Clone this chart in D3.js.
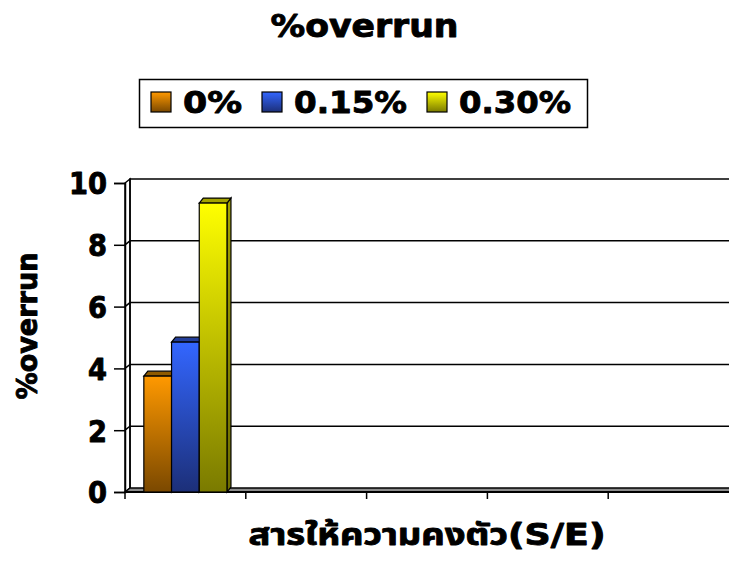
<!DOCTYPE html>
<html>
<head>
<meta charset="utf-8">
<script src="https://cdn.jsdelivr.net/npm/d3@7"></script>
<style>
  html, body { margin: 0; padding: 0; background: #fff; }
  svg { display: block; }
  text { font-family: "DejaVu Sans", Verdana, Tahoma, "Noto Sans Thai", sans-serif; font-weight: bold; fill: #000; }
  .heavy { stroke: #000; stroke-width: 0.9px; stroke-linejoin: round; }
</style>
</head>
<body>
<svg id="chart" width="729" height="564"></svg>
<script>
// Categories along the x axis (only the first one carries data)
const categories = ["S/E", "c2", "c3", "c4", "c5"];
// Series names shown in the legend
const seriesNames = ["0%", "0.15%", "0.30%"];
// %overrun per category for each series
const series0 = [3.75, null, null, null, null];
const series1 = [4.85, null, null, null, null];
const series2 = [9.35, null, null, null, null];
const seriesValues = [series0, series1, series2];
// Y axis ticks
const yTicks = [0, 2, 4, 6, 8, 10];

const titleText = "%overrun";
const yTitleText = "%overrun";
const xTitleText = "สารให้ความคงตัว(S/E)";

// Colour ramps (top -> bottom) for each series
const palette = [
  { top: "#FF9900", bottom: "#7A4800", cap: "#8F5A00", side: "#6B4000" },
  { top: "#3366FF", bottom: "#1C2F78", cap: "#233E99", side: "#1A2A6A" },
  { top: "#FFFF00", bottom: "#7A7A00", cap: "#A3A300", side: "#6E6E00" }
];

const W = 729, H = 564;
const svg = d3.select("#chart");
const defs = svg.append("defs");

palette.forEach((p, i) => {
  const g = defs.append("linearGradient").attr("id", "grad" + i)
    .attr("x1", 0).attr("y1", 0).attr("x2", 0).attr("y2", 1);
  g.append("stop").attr("offset", "0%").attr("stop-color", p.top);
  g.append("stop").attr("offset", "100%").attr("stop-color", p.bottom);
  const s = defs.append("linearGradient").attr("id", "side" + i)
    .attr("x1", 0).attr("y1", 0).attr("x2", 0).attr("y2", 1);
  s.append("stop").attr("offset", "0%").attr("stop-color", p.cap);
  s.append("stop").attr("offset", "100%").attr("stop-color", p.side);
});

// Plot geometry (front plane)
const pLeft = 125, pRight = 729, pBottom = 492, pTop = 183;
const wallDx = 5, wallDy = -4;   // depth of walls
const barDx = 4, barDy = -5;     // depth of bars

const y = d3.scaleLinear().domain([0, 10]).range([pBottom, pTop]);
const x0 = d3.scaleBand().domain(categories).range([pLeft, pRight]).paddingInner(0).paddingOuter(0);
const x1 = d3.scaleBand().domain(seriesNames).range([0, x0.bandwidth()]).paddingInner(0).paddingOuter(0.68);

// Title
svg.append("text").attr("class", "heavy").attr("x", W / 2).attr("y", 37).attr("text-anchor", "middle")
  .attr("textLength", 188).attr("lengthAdjust", "spacingAndGlyphs")
  .style("font-size", "32px").text(titleText);

// Legend
const legend = svg.append("g");
legend.append("rect").attr("x", 139.5).attr("y", 79.5).attr("width", 448).attr("height", 48)
  .attr("fill", "#fff").attr("stroke", "#000").attr("stroke-width", 1.5);
const legendX = [151, 262, 427];
const legendW = [59, 113, 112];
seriesNames.forEach((name, i) => {
  legend.append("rect").attr("x", legendX[i]).attr("y", 92).attr("width", 20).attr("height", 20)
    .attr("fill", `url(#grad${i})`).attr("stroke", "#000").attr("stroke-width", 1.2);
  legend.append("text").attr("class", "heavy").attr("x", legendX[i] + 32).attr("y", 113)
    .attr("textLength", legendW[i]).attr("lengthAdjust", "spacingAndGlyphs")
    .style("font-size", "31px").text(name);
});

// Walls and floor
const plot = svg.append("g");
// side wall
plot.append("path")
  .attr("d", `M${pLeft},${pBottom} L${pLeft},${pTop} L${pLeft + wallDx},${pTop + wallDy} L${pLeft + wallDx},${pBottom + wallDy} Z`)
  .attr("fill", "#fff").attr("stroke", "#000").attr("stroke-width", 1.5);
// back wall
plot.append("path")
  .attr("d", `M${pLeft + wallDx},${pBottom + wallDy} L${pLeft + wallDx},${pTop + wallDy} L${pRight + wallDx + 2},${pTop + wallDy}`)
  .attr("fill", "none").attr("stroke", "#000").attr("stroke-width", 1.5);
// floor
plot.append("path")
  .attr("d", `M${pLeft},${pBottom} L${pLeft + wallDx},${pBottom + wallDy} L${pRight + wallDx + 2},${pBottom + wallDy} L${pRight + 2},${pBottom} Z`)
  .attr("fill", "#8c8c8c").attr("stroke", "#000").attr("stroke-width", 1.5);

// Gridlines on the back wall and side wall
yTicks.filter(t => t > 0 && t < 10).forEach(t => {
  plot.append("path")
    .attr("d", `M${pLeft},${y(t)} L${pLeft + wallDx},${y(t) + wallDy} L${pRight + wallDx + 2},${y(t) + wallDy}`)
    .attr("fill", "none").attr("stroke", "#000").attr("stroke-width", 1.5);
});

// Y axis (front)
const yAxis = d3.axisLeft(y).tickValues(yTicks).tickSize(11).tickPadding(7).tickFormat(d3.format("d"));
const yg = svg.append("g").attr("transform", `translate(${pLeft},0)`).call(yAxis);
yg.select(".domain").attr("stroke", "#000").attr("stroke-width", 1.5);
yg.selectAll(".tick line").attr("stroke", "#000").attr("stroke-width", 1.5);
yg.selectAll(".tick text")
  .attr("class", "heavy")
  .style("font-size", "30px").style("font-family", "\"DejaVu Sans\", sans-serif")
  .attr("textLength", d => 19 * String(d).length).attr("lengthAdjust", "spacingAndGlyphs")
  .attr("dy", "0.36em");

// X axis (front), ticks at category boundaries
const boundaries = categories.map(c => x0(c));
const xg = svg.append("g");
xg.append("line").attr("x1", pLeft).attr("x2", pRight + 2).attr("y1", pBottom).attr("y2", pBottom)
  .attr("stroke", "#000").attr("stroke-width", 2);
boundaries.forEach(bx => {
  xg.append("line").attr("x1", bx).attr("x2", bx).attr("y1", pBottom).attr("y2", pBottom + 7)
    .attr("stroke", "#000").attr("stroke-width", 1.5);
});

// Bars with top and side faces
const bars = svg.append("g");
categories.forEach((c, ci) => {
  seriesValues.forEach((vals, si) => {
    const v = vals[ci];
    if (v == null) return;
    const bx = x0(c) + x1(seriesNames[si]);
    const bw = x1.bandwidth();
    const by = y(v);
    // side face
    bars.append("path")
      .attr("d", `M${bx + bw},${pBottom} L${bx + bw},${by} L${bx + bw + barDx},${by + barDy} L${bx + bw + barDx},${pBottom + barDy} Z`)
      .attr("fill", `url(#side${si})`).attr("stroke", "#000").attr("stroke-width", 1.2);
    // top face
    bars.append("path")
      .attr("d", `M${bx},${by} L${bx + barDx},${by + barDy} L${bx + bw + barDx},${by + barDy} L${bx + bw},${by} Z`)
      .attr("fill", palette[si].cap).attr("stroke", "#000").attr("stroke-width", 1.2);
    // front face
    bars.append("rect").attr("x", bx).attr("y", by).attr("width", bw).attr("height", pBottom - by)
      .attr("fill", `url(#grad${si})`).attr("stroke", "#000").attr("stroke-width", 1.2);
  });
});

// Axis titles
svg.append("text").attr("class", "heavy").attr("transform", `translate(37,326) rotate(-90)`).attr("text-anchor", "middle")
  .attr("textLength", 147).attr("lengthAdjust", "spacingAndGlyphs")
  .style("font-size", "28px").text(yTitleText);
svg.append("text").attr("class", "heavy").attr("x", (pLeft + pRight) / 2).attr("y", 545).attr("text-anchor", "middle")
  .attr("textLength", 357).attr("lengthAdjust", "spacingAndGlyphs")
  .style("font-size", "30px").text(xTitleText);
</script>
</body>
</html>
